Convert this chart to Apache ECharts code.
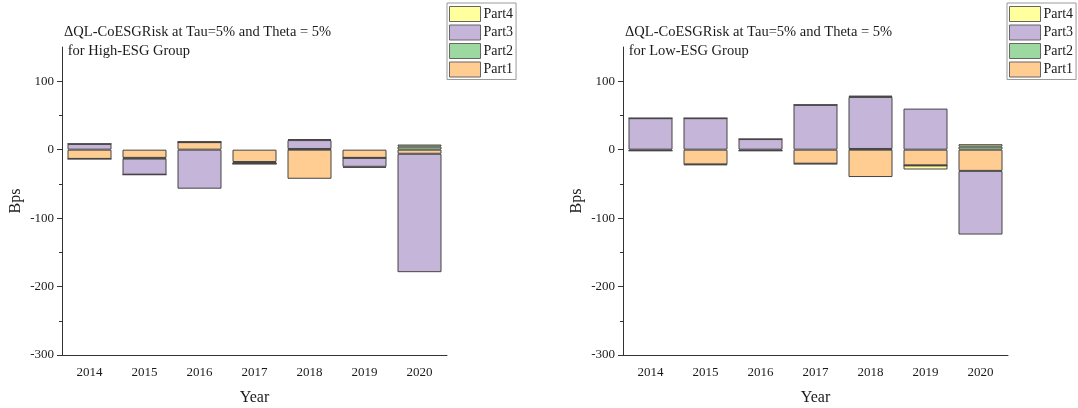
<!DOCTYPE html>
<html>
<head>
<meta charset="utf-8">
<script src="https://cdn.jsdelivr.net/npm/echarts@6/dist/echarts.min.js"></script>
<style>
  html, body { margin: 0; padding: 0; background: #fff; }
  #chart { width: 1078px; height: 408px; }
</style>
</head>
<body>
<div id="chart"></div>
<script>
// Categories and tick positions
const years = ['2014', '2015', '2016', '2017', '2018', '2019', '2020'];
const yMajorTicks = [-300, -200, -100, 0, 100];
const yMinorTicks = [-250, -150, -50, 50];

// ΔQL-CoESGRisk decomposition, High-ESG group (Bps)
const highPart1 = [-13.5, -12, 11, -18, -42.5, -12, -6];
const highPart2 = [0, -1, 0, -2.5, 1, 0, 4.5];
const highPart3 = [8.5, -23.5, -57, 0, 13, -13, -173];
const highPart4 = [0, 0, 0.8, 0, 1.5, -1.5, 3];

// ΔQL-CoESGRisk decomposition, Low-ESG group (Bps)
const lowPart1 = [-1.5, -21.5, -1.5, -20.5, -40, -23, -31];
const lowPart2 = [0, -1, 0, -0.5, 1, 0, 4.5];
const lowPart3 = [46, 46, 15.5, 65.5, 76, 60, -93];
const lowPart4 = [0, 0, 0, 0, 2, -6, 3.5];

const partNames = ['Part1', 'Part2', 'Part3', 'Part4'];
const partColors = ['#FFCC91', '#9DD8A0', '#C5B5D8', '#FFFF9E'];
const legendOrder = ['Part4', 'Part3', 'Part2', 'Part1'];

const FONT = 'Liberation Serif, Times New Roman, serif';
const TEXT = '#1a1a1a';
const AXIS = '#333';

const panels = [
  { left: 62, legendLeft: 447, stack: 'high', group: 'High-ESG Group', parts: [highPart1, highPart2, highPart3, highPart4] },
  { left: 623, legendLeft: 1007, stack: 'low', group: 'Low-ESG Group', parts: [lowPart1, lowPart2, lowPart3, lowPart4] }
];

const option = {
  animation: false,
  backgroundColor: '#fff',
  title: [], grid: [], xAxis: [], yAxis: [], legend: [], series: []
};

panels.forEach((p, i) => {
  option.title.push({
    text: 'ΔQL-CoESGRisk at Tau=5% and Theta = 5%\n for ' + p.group,
    left: p.left + 2,
    top: 23,
    padding: 0,
    textStyle: { fontFamily: FONT, fontSize: 14.5, fontWeight: 'normal', color: TEXT, lineHeight: 19 }
  });
  option.grid.push({
    left: p.left, top: 47, width: 385, height: 308,
    containLabel: false, outerBoundsMode: 'none'
  });

  // main category axis: ticks at category centres
  option.xAxis.push({
    type: 'category', gridIndex: i, data: years, position: 'bottom',
    axisLine: { onZero: false, lineStyle: { color: AXIS, width: 1 } },
    axisTick: { alignWithLabel: true, length: 5, lineStyle: { color: AXIS } },
    axisLabel: { fontFamily: FONT, fontSize: 13, color: TEXT, margin: 11 },
    splitLine: { show: false },
    name: 'Year', nameLocation: 'middle', nameGap: 35,
    nameTextStyle: { fontFamily: FONT, fontSize: 16, color: TEXT }
  });
  // companion axis: short ticks on category boundaries
  option.xAxis.push({
    type: 'category', gridIndex: i, data: years, position: 'bottom',
    axisLine: { show: false, onZero: false },
    axisTick: { alignWithLabel: false, length: 3, lineStyle: { color: AXIS } },
    axisLabel: { show: false },
    splitLine: { show: false }
  });

  option.yAxis.push({
    type: 'value', gridIndex: i, min: -300, max: 150, position: 'left',
    axisLine: { show: true, onZero: false, lineStyle: { color: AXIS, width: 1 } },
    axisTick: { show: true, length: 5, customValues: yMajorTicks, lineStyle: { color: AXIS } },
    axisLabel: { customValues: yMajorTicks, fontFamily: FONT, fontSize: 13, color: TEXT, margin: 8 },
    splitLine: { show: false },
    name: 'Bps', nameLocation: 'middle', nameGap: 38,
    nameTextStyle: { fontFamily: FONT, fontSize: 16, color: TEXT }
  });
  option.yAxis.push({
    type: 'value', gridIndex: i, min: -300, max: 150, position: 'left',
    axisLine: { show: false, onZero: false },
    axisTick: { show: true, length: 3, customValues: yMinorTicks, lineStyle: { color: AXIS } },
    axisLabel: { show: false },
    splitLine: { show: false }
  });

  option.legend.push({
    data: legendOrder,
    orient: 'vertical',
    left: p.legendLeft, top: 3,
    padding: [3, 3, 2, 2],
    itemWidth: 31, itemHeight: 15, itemGap: 2.5,
    icon: 'rect',
    selectedMode: false,
    borderColor: '#9a9a9a', borderWidth: 1,
    itemStyle: { borderColor: '#666', borderWidth: 1 },
    textStyle: { fontFamily: FONT, fontSize: 14, color: TEXT, padding: [0, 0, 0, -2] }
  });

  p.parts.forEach((vals, k) => {
    option.series.push({
      name: partNames[k],
      type: 'bar',
      xAxisIndex: i * 2, yAxisIndex: i * 2,
      stack: p.stack,
      data: vals,
      barWidth: 44,
      itemStyle: { color: partColors[k], borderColor: '#454545', borderWidth: 1 },
      emphasis: { disabled: true }
    });
  });
});

const chart = echarts.init(document.getElementById('chart'), null, { renderer: 'canvas' });
chart.setOption(option);
</script>
</body>
</html>
